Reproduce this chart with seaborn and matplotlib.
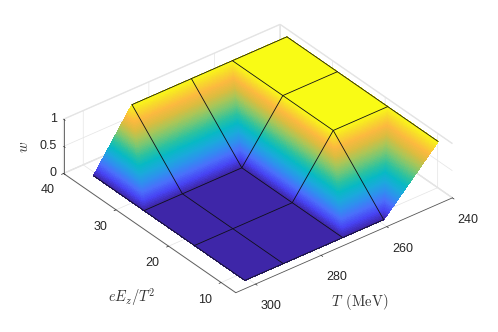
import matplotlib
matplotlib.use("Agg")
import matplotlib.pyplot as plt
import matplotlib.tri as mtri
import numpy as np
import seaborn as sns

# grid
E_values = [8.6, 18.2, 27.8, 37.4]
T_values = [301.0, 289.3, 271.2, 258.7, 242.1]
w_rows = [
    [0, 0, 0, 0, 1],
    [0, 0, 0, 1, 1],
    [0, 0, 0, 1, 1],
    [0, 1, 1, 1, 1],
]
E_ticks = [10, 20, 30, 40]
T_ticks = [240, 260, 280, 300]
w_ticks = [0, 0.5, 1]
w_ticklabels = ["0", "0.5", "1"]

# parula anchors
parula_colors = [
    "#3e26a8", "#4743f3", "#4a6ffb", "#2f8fef", "#1ba9dc", "#07b9c4",
    "#2cc29f", "#6ec779", "#a9c658", "#dcbc3f", "#fcb93f", "#f8d92c", "#f9fb15",
]

sns.set_theme(style="white")
plt.rcParams["font.family"] = ["Liberation Sans", "DejaVu Sans"]
plt.rcParams["mathtext.fontset"] = "cm"
parula = sns.blend_palette(parula_colors, n_colors=256, as_cmap=True)

E_grid, T_grid = np.meshgrid(E_values, T_values, indexing="ij")
w_grid = np.array(w_rows, dtype=float)

# same diagonal as the original shading on every quad
n_e, n_t = w_grid.shape
triangles = []
for i in range(n_e - 1):
    for j in range(n_t - 1):
        a = i * n_t + j
        b = i * n_t + j + 1
        c = (i + 1) * n_t + j
        d = (i + 1) * n_t + j + 1
        triangles.append([a, d, c])
        triangles.append([a, b, d])
triang = mtri.Triangulation(E_grid.ravel(), T_grid.ravel(), triangles)
linear = mtri.LinearTriInterpolator(triang, w_grid.ravel())
fine, w_fine = mtri.UniformTriRefiner(triang).refine_field(w_grid.ravel(), triinterpolator=linear, subdiv=6)

fig = plt.figure(figsize=(4.98, 3.32), dpi=100)
ax = fig.add_axes([0.009, 0.009, 1, 1], projection="3d", proj_type="ortho")
ax.computed_zorder = False
ax.view_init(elev=33.4, azim=141.5)
ax.set_box_aspect((1, 1, 0.235), zoom=1.16)

# the 3d axes box is square, so the outer corners would get cut without this
surf = ax.plot_trisurf(fine, w_fine, cmap=parula, vmin=0, vmax=1, linewidth=0.15,
                       antialiased=False, shade=False, zorder=2)
surf.set_edgecolor("face")
surf.set_clip_on(False)

# no mesh line shows on the two outer slopes
for i in range(n_e):
    first = 1 if i == n_e - 1 else 0
    last = n_t - 1 if i == 0 else n_t
    line, = ax.plot(E_grid[i][first:last], T_grid[i][first:last], w_grid[i][first:last],
                    color="#101018", lw=0.6, zorder=3)
    line.set_clip_on(False)
for j in range(n_t):
    line, = ax.plot(E_grid[:, j], T_grid[:, j], w_grid[:, j], color="#101018", lw=0.6, zorder=3)
    line.set_clip_on(False)

ax.set_xlim(7.2, 40, view_margin=0)
ax.set_ylim(240, 306, view_margin=0)
ax.set_zlim(0, 1, view_margin=0)
ax.set_xticks(E_ticks)
ax.set_yticks(T_ticks)
ax.set_zticks(w_ticks)
ax.set_zticklabels(w_ticklabels, ha="right", va="center")
ax.tick_params(labelsize=9, colors="#262626")
ax.xaxis.set_tick_params(pad=1.2)
ax.yaxis.set_tick_params(pad=3.5)
ax.zaxis.set_tick_params(pad=-5.8)

for axis in (ax.xaxis, ax.yaxis, ax.zaxis):
    axis.set_pane_color((1, 1, 1, 1))
    axis.pane.set_edgecolor("#e6e6e6")
    axis.line.set_color("#555555")
    axis.line.set_linewidth(0.6)
    axis._axinfo["grid"].update(color="#e4e4e4", linewidth=0.5)
    axis._axinfo["tick"].update(inward_factor=0.12, outward_factor=0.0, linewidth={True: 0.5, False: 0.5})
    for artist in axis.get_ticklines() + axis.get_gridlines():
        artist.set_clip_on(False)
    axis.line.set_clip_on(False)
    axis.gridlines.set_clip_on(False)
    axis.pane.set_clip_on(False)

# put the w axis on the left corner
ax.zaxis._axinfo["juggled"] = (1, 2, 0)

fig.text(132 / 498, 1 - 297 / 332, r"$eE_z/T^2$", fontsize=10.5, ha="center", va="center", color="#333333")
fig.text(360 / 498, 1 - 302 / 332, r"$T$ $\,\mathrm{(MeV)}$", fontsize=10.5, ha="center", va="center", color="#333333")
fig.text(24 / 498, 1 - 147 / 332, r"$w$", fontsize=10.5, rotation=90, ha="center", va="center", color="#333333")

fig.savefig("out.png", dpi=100)
